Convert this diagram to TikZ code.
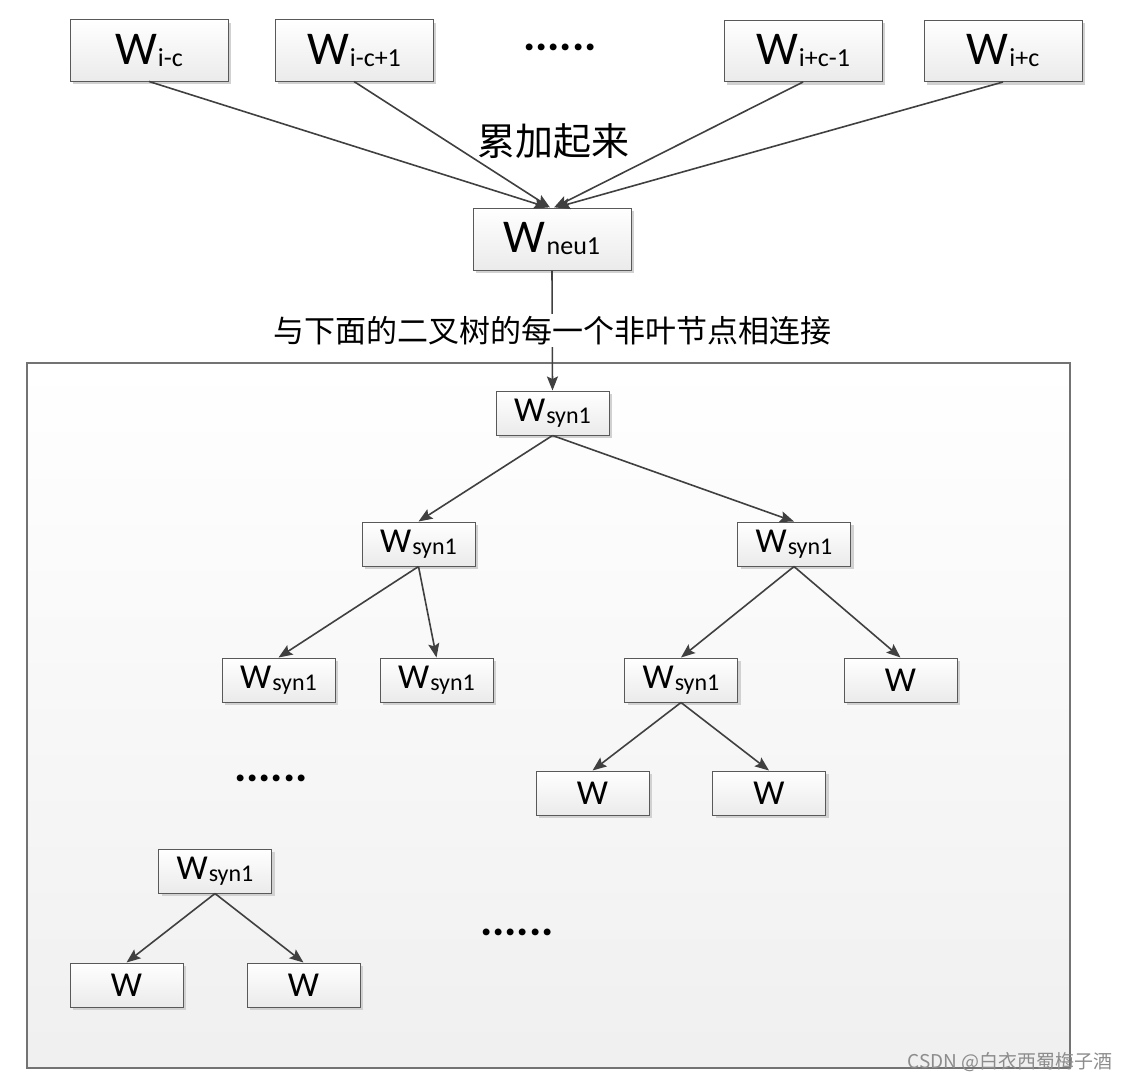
\documentclass[tikz,border=0pt]{standalone}
\usepackage{fontspec}
\setmainfont{Carlito}
\newfontfamily\cjk{Noto Sans CJK SC}
\usepackage{tikz}
\usetikzlibrary{positioning,arrows.meta,shadows}

\newcommand{\wbig}[1]{{\fontsize{47}{47}\selectfont W}\kern1pt\raisebox{-2pt}{\fontsize{26}{26}\selectfont #1}}
\newcommand{\wsmall}[1]{{\fontsize{35}{35}\selectfont W}\kern1pt\raisebox{-2pt}{\fontsize{24}{24}\selectfont #1}}

\begin{document}
\begin{tikzpicture}[
  x=1pt, y=-1pt,
  wbox/.style={rectangle, draw=black!65, line width=1pt, top color=white, bottom color=black!8,
               drop shadow={shadow xshift=3pt, shadow yshift=-3pt, fill=black!18, opacity=1},
               minimum width=158pt, minimum height=61pt, inner sep=0pt},
  tbox/.style={wbox, minimum width=113pt, minimum height=44pt},
  leaf/.style={tbox, font=\fontsize{35}{35}\selectfont},
  arrow/.style={-{Stealth[length=14pt, width=11pt, inset=2.5pt]}, draw=black!75, line width=1.6pt},
  dots/.style={font=\bfseries\fontsize{46}{46}\selectfont, anchor=base, inner sep=0pt},
  cjklabel/.style={font=\cjk\fontsize{31}{33}\selectfont}
]
\useasboundingbox (0,0) rectangle (1131,1081);

% Background panel for the tree
\draw[draw=black!55, line width=1.5pt, top color=white, bottom color=black!6]
  (27,363) rectangle (1070,1068);

% Context words
\node[wbox] (wic)  at (149,50.5) {\wbig{i-c}};
\node[wbox] (wic1) at (354,50.5) {\wbig{i-c+1}};
\node[dots] (tdots) at (560,51) {......};
\node[wbox] (wicm) at (803,51) {\wbig{i+c-1}};
\node[wbox] (wicp) at (1003,51) {\wbig{i+c}};

% Sum label
\node[cjklabel, font=\cjk\fontsize{38}{40}\selectfont] (sumlabel) at (553,141) {累加起来};

% Hidden layer
\node[wbox, minimum height=62pt] (neu) at (552,239) {\wbig{neu1}};

\draw[arrow] (wic.south)  -- ([xshift=-4pt]neu.north);
\draw[arrow] (wic1.south) -- ([xshift=-2pt]neu.north);
\draw[arrow] (wicm.south) -- ([xshift=2pt]neu.north);
\draw[arrow] (wicp.south) -- ([xshift=4pt]neu.north);

% Binary tree
\node[tbox] (root) at (552.5,413) {\wsmall{syn1}};
\node[tbox] (l2a) at (418.5,544) {\wsmall{syn1}};
\node[tbox] (l2b) at (794,544) {\wsmall{syn1}};
\node[tbox] (l3a) at (278.5,680) {\wsmall{syn1}};
\node[tbox] (l3b) at (436.5,680) {\wsmall{syn1}};
\node[tbox] (l3c) at (681,680) {\wsmall{syn1}};
\node[leaf] (l3d) at (900.5,680) {W};
\node[leaf] (l4a) at (592.5,793) {W};
\node[leaf] (l4b) at (769,793) {W};
\node[dots] (ldots) at (271,781) {......};
\node[tbox] (low) at (215,871) {\wsmall{syn1}};
\node[leaf] (lowa) at (126.5,985) {W};
\node[leaf] (lowb) at (303.5,985) {W};
\node[dots] (rdots) at (517,935) {......};

\draw[arrow] (neu.south) -- node[cjklabel, fill=white, inner sep=2pt] (linklabel) {与下面的二叉树的每一个非叶节点相连接} (root.north);

\draw[arrow] (root.south) -- (l2a.north);
\draw[arrow] (root.south) -- (l2b.north);
\draw[arrow] (l2a.south) -- (l3a.north);
\draw[arrow] (l2a.south) -- (l3b.north);
\draw[arrow] (l2b.south) -- (l3c.north);
\draw[arrow] (l2b.south) -- (l3d.north);
\draw[arrow] (l3c.south) -- (l4a.north);
\draw[arrow] (l3c.south) -- (l4b.north);
\draw[arrow] (low.south) -- (lowa.north);
\draw[arrow] (low.south) -- (lowb.north);

% Watermark
\node[font=\cjk\fontsize{19}{20}\selectfont, text=black!45] (mark) at (1010,1062) {CSDN @白衣西蜀梅子酒};

\end{tikzpicture}
\end{document}
